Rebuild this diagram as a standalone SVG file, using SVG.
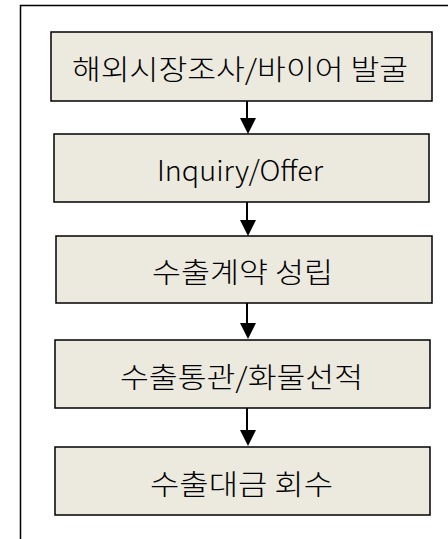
<svg xmlns="http://www.w3.org/2000/svg" width="448" height="539" viewBox="0 0 448 539">
<defs>
<style>
.box{fill:#ECE9DF;stroke:#000;stroke-width:1.5}
.t{font-family:"Noto Sans CJK KR","Noto Sans",sans-serif;font-size:28px;font-weight:300;fill:#000;text-anchor:middle;dominant-baseline:central}
.c{stroke:#000;stroke-width:2;fill:none}
.h{fill:#000}
</style>
</defs>
<rect x="20.5" y="5.5" width="440" height="560" fill="#fff" stroke="#000" stroke-width="1.5"/>
<g id="connectors">
<line class="c" x1="247" y1="101" x2="247" y2="119"/>
<path class="h" d="M240,118 L256,118 L248,134 Z"/>
<line class="c" x1="247" y1="202" x2="247" y2="221"/>
<path class="h" d="M240,220 L256,220 L248,236 Z"/>
<line class="c" x1="247" y1="303" x2="247" y2="324"/>
<path class="h" d="M240,323 L256,323 L248,339 Z"/>
<line class="c" x1="247" y1="408" x2="247" y2="431"/>
<path class="h" d="M240,430 L256,430 L248,446 Z"/>
</g>
<g id="n1"><rect class="box" x="51" y="32" width="381" height="69"/><text class="t" x="240" y="68" textLength="336" lengthAdjust="spacingAndGlyphs">해외시장조사/바이어 발굴</text></g>
<g id="n2"><rect class="box" x="54" y="134" width="375" height="68"/><text class="t" x="240" y="169" textLength="166" lengthAdjust="spacingAndGlyphs">Inquiry/Offer</text></g>
<g id="n3"><rect class="box" x="56" y="236" width="376" height="67"/><text class="t" x="242.5" y="271" textLength="181" lengthAdjust="spacingAndGlyphs">수출계약 성립</text></g>
<g id="n4"><rect class="box" x="55" y="340" width="375" height="68"/><text class="t" x="241.5" y="376" textLength="243" lengthAdjust="spacingAndGlyphs">수출통관/화물선적</text></g>
<g id="n5"><rect class="box" x="55" y="447" width="375" height="68"/><text class="t" x="241.5" y="483" textLength="183" lengthAdjust="spacingAndGlyphs">수출대금 회수</text></g>
</svg>
